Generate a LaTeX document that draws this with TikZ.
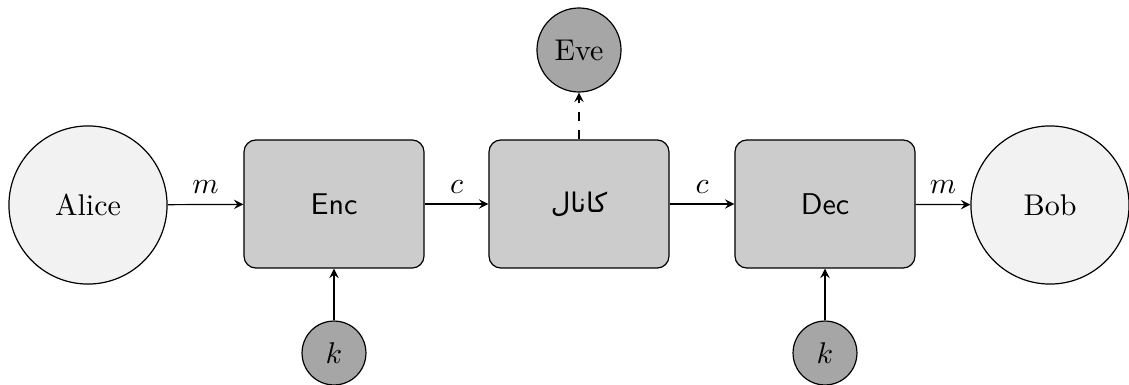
\documentclass[tikz,border=0pt]{standalone}
\usepackage{fontspec}
\newfontfamily\arabicfont[Script=Arabic]{DejaVu Sans}
\TeXXeTstate=1
\usetikzlibrary{arrows}
\begin{document}
\begin{tikzpicture}[x=0.3333pt,y=-0.3333pt,
  party/.style={circle, draw, fill=gray!10, minimum size=52.7pt, inner sep=0pt},
  smallparty/.style={circle, draw, fill=gray!70, inner sep=0pt},
  block/.style={draw, rounded corners=4pt, fill=gray!40, minimum width=60pt, minimum height=42.7pt, font=\sffamily},
  arr/.style={-stealth}]
\useasboundingbox (0,0) rectangle (1129,385);
\node[party] (alice) at (88,205) {Alice};
\node[block] (enc) at (334,204) {Enc};
\node[block] (chan) at (579,204) {\arabicfont\fontsize{9}{11}\selectfont\beginR كانال\endR};
\node[block] (dec) at (825,204) {Dec};
\node[party] (bob) at (1050,205) {Bob};
\node[smallparty, minimum size=28pt] (eve) at (579,50) {Eve};
\node[smallparty, minimum size=21.3pt] (k1) at (334,353) {$k$};
\node[smallparty, minimum size=21.3pt] (k2) at (825,353) {$k$};
\draw[arr] (alice) -- node[above] {$m$} (enc);
\draw[arr] (enc) -- node[above] {$c$} (chan);
\draw[arr] (chan) -- node[above] {$c$} (dec);
\draw[arr] (dec) -- node[above] {$m$} (bob);
\draw[arr, dashed] (chan) -- (eve);
\draw[arr] (k1) -- (enc);
\draw[arr] (k2) -- (dec);
\end{tikzpicture}
\end{document}
